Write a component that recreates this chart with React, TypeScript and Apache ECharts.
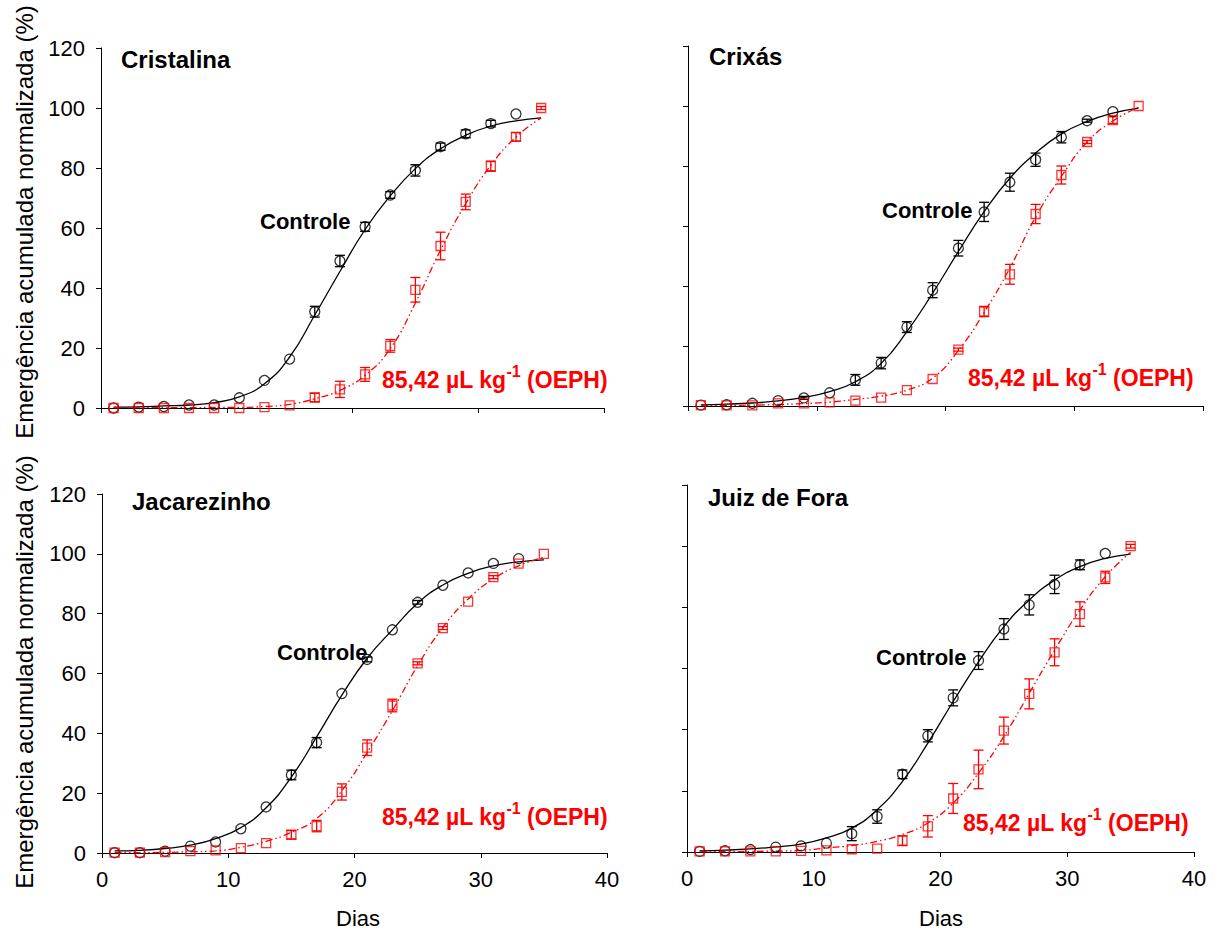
import React, { useEffect, useRef } from "react";
import * as echarts from "echarts";

// Days of observation
const ctrlDays = [1, 3, 5, 7, 9, 11, 13, 15, 17, 19, 21, 23, 25, 27, 29, 31, 33];
const oephDays = [1, 3, 5, 7, 9, 11, 13, 15, 17, 19, 21, 23, 25, 27, 29, 31, 33, 35];
const fitDays = [1, 3, 5, 7, 9, 11, 13, 15, 17, 19, 21, 23, 25, 27, 29, 31, 33, 35];

const xTicks = [0, 10, 20, 30, 40];
const yTicks = [0, 20, 40, 60, 80, 100, 120];

const panelNames = ["Cristalina", "Crixás", "Jacarezinho", "Juiz de Fora"];
const ctrlLabel = "Controle";
const yTitle = "Emergência acumulada normalizada (%)";
const xTitle = "Dias";

// Cristalina
const cristalinaCtrl = [0, 0.3, 0.5, 1, 1, 3.4, 9.2, 16.3, 32.1, 49, 60.4, 71, 79.2, 87.1, 91.4, 94.8, 98];
const cristalinaCtrlErr = [0, 0, 0, 0, 0, 0, 0, 0, 1.8, 1.9, 1.5, 1.1, 1.9, 1.2, 1.3, 1.1, 0];
const cristalinaOeph = [0, 0, 0, 0, 0, 0, 0.3, 0.9, 3.5, 6.2, 11.2, 20.7, 39.4, 54, 68.7, 80.6, 90.4, 100];
const cristalinaOephErr = [0, 0, 0, 0, 0, 0, 0, 0, 1.4, 2.7, 2.3, 2.1, 4.1, 4.6, 2.6, 1.7, 1.4, 0.5];
const cristalinaCtrlFit = [0.3, 0.4, 0.7, 1.0, 1.8, 3.7, 8.1, 17, 31, 45.5, 59.5, 70.7, 79.8, 86.4, 90.9, 94, 95.7, 96.7];
const cristalinaOephFit = [0.1, 0.1, 0.1, 0.1, 0.2, 0.2, 0.5, 1.2, 3.1, 5.9, 10.9, 19.8, 35, 52.6, 68.1, 80.9, 90.3, 96.7];

// Crixás
const crixasCtrl = [0.3, 0.4, 0.9, 1.8, 2.7, 4.4, 8.7, 14.3, 26.3, 38.6, 52.6, 64.7, 74.6, 82.1, 89.6, 95.1, 98.1];
const crixasCtrlErr = [0, 0, 0, 0, 0.5, 0, 1.8, 1.9, 1.8, 2.5, 2.6, 3.2, 3.0, 2.2, 1.9, 0.5, 0];
const crixasOeph = [0.3, 0.2, 0.2, 0.9, 0.9, 1.2, 1.8, 2.8, 5.3, 9.0, 18.8, 31.5, 43.9, 64.0, 77.0, 88.0, 95.3, 100];
const crixasOephErr = [0, 0, 0, 0, 0, 0, 0, 0, 0, 0, 0.5, 1.7, 3.3, 3.2, 3.0, 0.5, 1.1, 0];
const crixasCtrlFit = [0.4, 0.6, 1.0, 1.7, 2.9, 4.8, 8.1, 14.2, 24.8, 37.6, 51.5, 64.8, 75.9, 84.3, 90.7, 94.8, 97.6, 99.3];
const crixasOephFit = [0.1, 0.2, 0.3, 0.5, 0.8, 1.3, 2.2, 3.3, 5.3, 9.3, 18.5, 31.2, 46, 63, 76.5, 88, 95, 99.6];

// Jacarezinho
const jacarezinhoCtrl = [0.1, 0.1, 0.6, 2.3, 3.7, 8.1, 15.4, 26.1, 36.9, 53.3, 64.7, 74.6, 83.8, 89.5, 93.6, 96.8, 98.4];
const jacarezinhoCtrlErr = [0, 0, 0, 0, 0, 0, 0, 1.6, 1.7, 0, 0.8, 0, 0.6, 0, 0, 0, 0];
const jacarezinhoOeph = [0.1, 0.1, 0.3, 0.6, 0.9, 1.6, 3.3, 6.1, 9.0, 20.4, 35.2, 49.3, 63.4, 75.2, 84.0, 92.2, 96.7, 100];
const jacarezinhoOephErr = [0, 0, 0, 0, 0, 0, 0, 1.4, 1.9, 2.7, 2.6, 2.1, 0.5, 0.5, 0, 0.5, 0, 0];
const jacarezinhoCtrlFit = [0.7, 0.9, 1.5, 2.6, 4.8, 8.5, 15.1, 25.4, 38.8, 52.8, 65.1, 74.6, 83.5, 89.6, 93.5, 96, 97.3, 98];
const jacarezinhoOephFit = [0.1, 0.1, 0.2, 0.4, 0.7, 1.9, 3.9, 6.9, 11.5, 20.8, 33.6, 47.6, 62.6, 75.4, 84.9, 91.6, 96, 98.8];

// Juiz de Fora
const juizCtrl = [0.2, 0.4, 0.8, 1.6, 2.0, 2.9, 6.0, 11.6, 25.4, 38, 50.4, 62.6, 72.9, 80.8, 87.5, 93.9, 97.6];
const juizCtrlErr = [0, 0, 0, 0, 0, 0, 2.3, 2.2, 1.4, 2.0, 2.6, 2.9, 3.4, 3.3, 3.0, 1.6, 0];
const juizOeph = [0.2, 0.2, 0.2, 0.2, 0.4, 0.5, 0.9, 1.1, 3.7, 8.4, 17.5, 27, 39.7, 51.7, 65.3, 77.8, 89.8, 100];
const juizOephErr = [0, 0, 0, 0, 0, 0, 0, 0, 1.6, 3.5, 4.9, 6.3, 4.4, 4.9, 4.4, 4.0, 2.0, 0.6];
const juizCtrlFit = [0.4, 0.6, 1.0, 1.7, 2.6, 4.6, 7.8, 13.8, 23.1, 35.6, 49.2, 62.2, 73.7, 82.4, 88.9, 93.3, 96, 97.4];
const juizOephFit = [0.1, 0.1, 0.2, 0.3, 0.5, 1.3, 2.1, 3.5, 5.7, 9.5, 16, 25.8, 37.8, 51.9, 66, 79.1, 90, 98];

const panels = [
  { ctrl: cristalinaCtrl, ctrlErr: cristalinaCtrlErr, oeph: cristalinaOeph, oephErr: cristalinaOephErr, ctrlFit: cristalinaCtrlFit, oephFit: cristalinaOephFit },
  { ctrl: crixasCtrl, ctrlErr: crixasCtrlErr, oeph: crixasOeph, oephErr: crixasOephErr, ctrlFit: crixasCtrlFit, oephFit: crixasOephFit },
  { ctrl: jacarezinhoCtrl, ctrlErr: jacarezinhoCtrlErr, oeph: jacarezinhoOeph, oephErr: jacarezinhoOephErr, ctrlFit: jacarezinhoCtrlFit, oephFit: jacarezinhoOephFit },
  { ctrl: juizCtrl, ctrlErr: juizCtrlErr, oeph: juizOeph, oephErr: juizOephErr, ctrlFit: juizCtrlFit, oephFit: juizOephFit },
];

const FONT = "'Liberation Sans', Arial, Helvetica, sans-serif";
const RED = "#ff0000";
const BLACK = "#000000";

const grids = [
  { left: 101, top: 48, width: 503, height: 360 },
  { left: 688, top: 46, width: 515, height: 360 },
  { left: 102, top: 494, width: 505, height: 359 },
  { left: 687, top: 485, width: 507, height: 367 },
];

const titlePos = [
  { x: 121, y: 59 },
  { x: 709, y: 56 },
  { x: 132, y: 501 },
  { x: 708, y: 497 },
];
const ctrlPos = [
  { x: 260, y: 221 },
  { x: 882, y: 210 },
  { x: 277, y: 652 },
  { x: 876, y: 657 },
];
const oephPos = [
  { x: 382, y: 377 },
  { x: 968, y: 375 },
  { x: 382, y: 814 },
  { x: 963, y: 820 },
];

function errRender(color: string) {
  return (params: any, api: any) => {
    const x = api.value(0);
    const y = api.value(1);
    const e = api.value(2);
    if (!e) return null;
    const top = api.coord([x, y + e]);
    const bot = api.coord([x, y - e]);
    const hw = 5;
    const st = { stroke: color, lineWidth: 1.3 };
    return {
      type: "group",
      children: [
        { type: "line", shape: { x1: top[0], y1: top[1], x2: bot[0], y2: bot[1] }, style: st },
        { type: "line", shape: { x1: top[0] - hw, y1: top[1], x2: top[0] + hw, y2: top[1] }, style: st },
        { type: "line", shape: { x1: bot[0] - hw, y1: bot[1], x2: bot[0] + hw, y2: bot[1] }, style: st },
      ],
    };
  };
}

export default function App() {
  const ref = useRef<HTMLDivElement>(null);
  useEffect(() => {
    if (!ref.current) return;
    const chart = echarts.init(ref.current, undefined, { renderer: "svg" });

    const xAxis: any[] = [];
    const yAxis: any[] = [];
    const series: any[] = [];
    const graphic: any[] = [];

    grids.forEach((g, i) => {
      const bottomRow = i >= 2;
      const leftCol = i % 2 === 0;
      xAxis.push({
        type: "value",
        gridIndex: i,
        min: xTicks[0],
        max: xTicks[xTicks.length - 1],
        interval: 10,
        splitLine: { show: false },
        axisLine: { show: true, onZero: false, lineStyle: { color: BLACK, width: 1 } },
        axisTick: { show: true, inside: false, length: 5, lineStyle: { color: BLACK } },
        axisLabel: { show: bottomRow, color: BLACK, fontSize: 22, fontFamily: FONT, margin: 15 },
      });
      yAxis.push({
        type: "value",
        gridIndex: i,
        min: yTicks[0],
        max: yTicks[yTicks.length - 1],
        interval: 20,
        splitLine: { show: false },
        axisLine: { show: true, onZero: false, lineStyle: { color: BLACK, width: 1 } },
        axisTick: { show: true, inside: false, length: 5, lineStyle: { color: BLACK } },
        axisLabel: { show: leftCol, color: BLACK, fontSize: 22, fontFamily: FONT, margin: 16 },
      });

      const p = panels[i];
      series.push({
        type: "line",
        xAxisIndex: i,
        yAxisIndex: i,
        data: fitDays.map((d, k) => [d, p.ctrlFit[k]]),
        smooth: true,
        showSymbol: false,
        symbol: "none",
        lineStyle: { color: BLACK, width: 1.3 },
        z: 2,
      });
      series.push({
        type: "line",
        xAxisIndex: i,
        yAxisIndex: i,
        data: fitDays.map((d, k) => [d, p.oephFit[k]]),
        smooth: true,
        showSymbol: false,
        symbol: "none",
        lineStyle: { color: RED, width: 1.3, type: [7, 3, 1.5, 3, 1.5, 3] },
        z: 2,
      });
      series.push({
        type: "custom",
        xAxisIndex: i,
        yAxisIndex: i,
        data: ctrlDays.map((d, k) => [d, p.ctrl[k], p.ctrlErr[k]]),
        encode: { x: 0, y: 1 },
        renderItem: errRender(BLACK),
        z: 3,
      });
      series.push({
        type: "custom",
        xAxisIndex: i,
        yAxisIndex: i,
        data: oephDays.map((d, k) => [d, p.oeph[k], p.oephErr[k]]),
        encode: { x: 0, y: 1 },
        renderItem: errRender(RED),
        z: 3,
      });
      series.push({
        type: "scatter",
        xAxisIndex: i,
        yAxisIndex: i,
        data: ctrlDays.map((d, k) => [d, p.ctrl[k]]),
        symbol: "circle",
        symbolSize: 10,
        itemStyle: { color: "rgba(255,255,255,0)", borderColor: BLACK, borderWidth: 1.3 },
        z: 4,
      });
      series.push({
        type: "scatter",
        xAxisIndex: i,
        yAxisIndex: i,
        data: oephDays.map((d, k) => [d, p.oeph[k]]),
        symbol: "rect",
        symbolSize: 9,
        itemStyle: { color: "rgba(255,255,255,0)", borderColor: RED, borderWidth: 1.3 },
        z: 4,
      });

      graphic.push({
        type: "text",
        x: titlePos[i].x,
        y: titlePos[i].y,
        style: {
          text: panelNames[i],
          fill: BLACK,
          font: `bold 24px ${FONT}`,
          textAlign: "left",
          textVerticalAlign: "middle",
        },
      });
      graphic.push({
        type: "text",
        x: ctrlPos[i].x,
        y: ctrlPos[i].y,
        style: {
          text: ctrlLabel,
          fill: BLACK,
          font: `bold 22px ${FONT}`,
          textAlign: "left",
          textVerticalAlign: "middle",
        },
      });
      graphic.push({
        type: "text",
        x: oephPos[i].x,
        y: oephPos[i].y,
        style: {
          text: "{a|85,42 µL kg}{s|-1}{a| (OEPH)}",
          fill: RED,
          textAlign: "left",
          textVerticalAlign: "middle",
          rich: {
            a: { fill: RED, fontSize: 23, fontWeight: "bold", fontFamily: FONT, lineHeight: 28, verticalAlign: "bottom" },
            s: { fill: RED, fontSize: 16, fontWeight: "bold", fontFamily: FONT, lineHeight: 16, verticalAlign: "top" },
          },
        },
      });
    });

    graphic.push({
      type: "text",
      x: 24,
      y: 222,
      rotation: Math.PI / 2,
      style: { text: yTitle, fill: BLACK, font: `24px ${FONT}`, textAlign: "center", textVerticalAlign: "middle" },
    });
    graphic.push({
      type: "text",
      x: 24,
      y: 672,
      rotation: Math.PI / 2,
      style: { text: yTitle, fill: BLACK, font: `24px ${FONT}`, textAlign: "center", textVerticalAlign: "middle" },
    });
    graphic.push({
      type: "text",
      x: 358,
      y: 918,
      style: { text: xTitle, fill: BLACK, font: `22px ${FONT}`, textAlign: "center", textVerticalAlign: "middle" },
    });
    graphic.push({
      type: "text",
      x: 941,
      y: 918,
      style: { text: xTitle, fill: BLACK, font: `22px ${FONT}`, textAlign: "center", textVerticalAlign: "middle" },
    });

    chart.setOption({
      animation: false,
      backgroundColor: "#ffffff",
      grid: grids.map((g) => ({ ...g, containLabel: false })),
      xAxis,
      yAxis,
      series,
      graphic,
    });
    return () => chart.dispose();
  }, []);

  return (
    <div
      ref={ref}
      style={{ position: "fixed", left: 0, top: 0, width: 1219, height: 933, background: "#fff" }}
    />
  );
}
